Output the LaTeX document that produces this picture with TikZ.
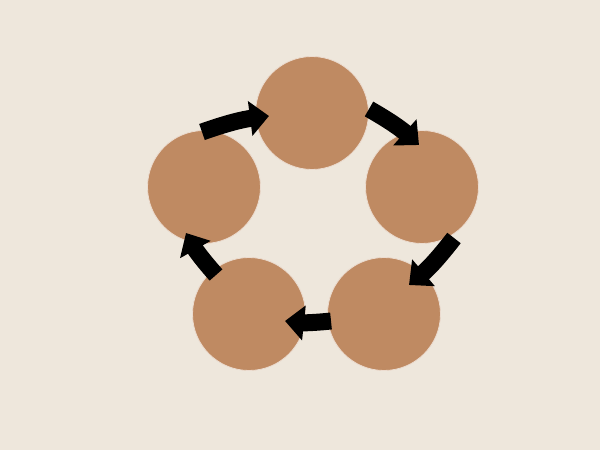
\documentclass[tikz,border=0pt]{standalone}
\usetikzlibrary{arrows.meta}
\definecolor{bg}{HTML}{EEE7DC}
\definecolor{disc}{HTML}{BF8A62}
\tikzset{
  disc/.style={circle, fill=disc, draw=white!70!disc, line width=0.8pt, minimum size=113pt, inner sep=0pt},
  blockarrow/.style={line width=17pt, line cap=butt, -{Triangle[width=34pt,length=19pt]}}
}
\begin{document}
\begin{tikzpicture}[x=1pt,y=1pt]
\fill[bg] (0,0) rectangle (600,450);
\useasboundingbox (0,0) rectangle (600,450);
\node[disc] (top) at (312,337) {};
\node[disc] (right) at (422,263) {};
\node[disc] (br) at (384,136) {};
\node[disc] (bl) at (249,136) {};
\node[disc] (left) at (204,263) {};
\coordinate (t1) at (202,318);
\coordinate (h1) at (269,334);
\coordinate (t2) at (369,341);
\coordinate (h2) at (419,305);
\coordinate (t3) at (454,212);
\coordinate (h3) at (409,165);
\coordinate (t4) at (331,129);
\coordinate (h4) at (285,129);
\coordinate (t5) at (216,175);
\coordinate (h5) at (186,217);
\foreach \a/\b in {t1/h1,t2/h2,t3/h3,t4/h4,t5/h5}{
  \draw[blockarrow, black] (\a) to[bend left=6] (\b);
}
\end{tikzpicture}
\end{document}
